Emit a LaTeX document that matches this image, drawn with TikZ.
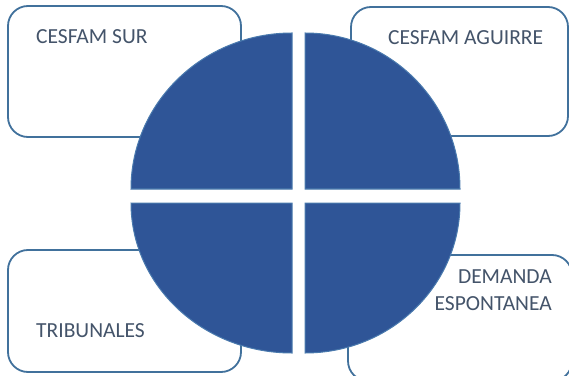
\documentclass[tikz,border=0pt]{standalone}
\usepackage{fontspec}
\setmainfont{Carlito}
\usetikzlibrary{positioning}
\definecolor{edgeblue}{HTML}{41719C}
\definecolor{quadfill}{HTML}{2F5597}
\definecolor{quadline}{HTML}{4A7AAE}
\definecolor{txtgray}{HTML}{44546A}
\begin{document}
\begin{tikzpicture}[x=1pt, y=1pt,
			box/.style  = {draw=edgeblue, line width=1.8pt, rectangle, rounded corners=20pt, fill=white, inner sep=0pt},
			quad/.style = {fill=quadfill, draw=quadline, line width=1pt},
			lbl/.style  = {font=\fontsize{21.5}{27}\selectfont, text=txtgray, inner sep=0pt}]
			
			\useasboundingbox (0,0) rectangle (569,375);
			\clip (0,0) rectangle (569,375);
			
			% the four boxes behind the circle
			\node[box, minimum width=233pt, minimum height=131pt] (bSur) at (124.5,303.5) {};
			\node[box, minimum width=217pt, minimum height=129pt] (bAgu) at (459.5,303.5) {};
			\node[box, minimum width=233pt, minimum height=122pt] (bTri) at (124.5,64) {};
			\node[box, minimum width=224pt, minimum height=126pt] (bDem) at (460,57) {};
			
			% labels
			\node[lbl, anchor=base west] (tSur) at (36,331) {CESFAM SUR};
			\node[lbl, anchor=base west] (tAgu) at (388,330) {CESFAM AGUIRRE};
			\node[lbl, anchor=base west] (tTri) at (36,38) {TRIBUNALES};
			\node[lbl, anchor=base east, align=right] (tDem) at (552,65) {DEMANDA\\ESPONTANEA};
			
			% the circle, cut into quarters
			\draw[quad] (292,186) -- (131,186) arc[start angle=180, end angle=90, x radius=161, y radius=156] -- cycle;
			\draw[quad] (305,186) -- (305,342) arc[start angle=90, end angle=0, x radius=155, y radius=156] -- cycle;
			\draw[quad] (292,172) -- (292,22) arc[start angle=270, end angle=180, x radius=161, y radius=150] -- cycle;
			\draw[quad] (305,172) -- (460,172) arc[start angle=0, end angle=-90, x radius=155, y radius=150] -- cycle;
		\end{tikzpicture}
\end{document}
